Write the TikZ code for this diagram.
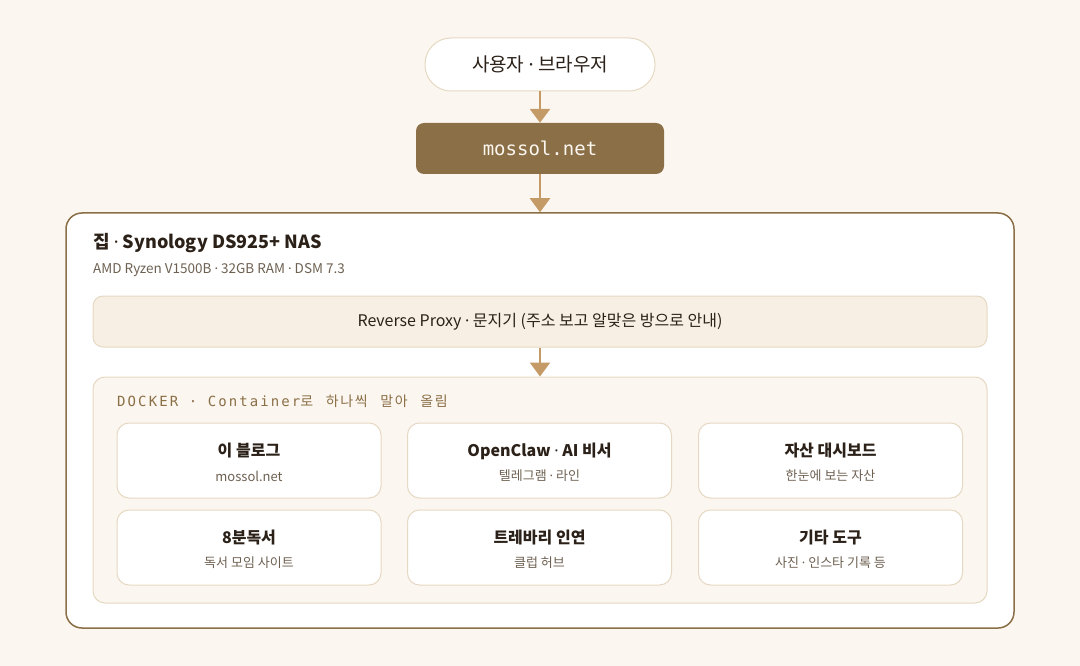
\documentclass[tikz,border=0pt]{standalone}
\usepackage{fontspec}
\setmainfont{Noto Sans CJK KR}
\setmonofont{DejaVu Sans Mono}
\newfontfamily\latinfont{Noto Sans}
\newfontfamily\dockfont[LetterSpace=15]{DejaVu Sans Mono}
\newfontfamily\dockkr[LetterSpace=12, WordSpace=2.6]{Noto Sans CJK KR}
\newcommand\mdot{{\latinfont ·}}
\usetikzlibrary{arrows.meta, positioning}
\definecolor{pagebg}{HTML}{FBF6EF}
\definecolor{tan1}{HTML}{C49A66}
\definecolor{brown1}{HTML}{8B6F47}
\definecolor{line1}{HTML}{E6D9C3}
\definecolor{proxyfill}{HTML}{F7EFE3}
\definecolor{ink1}{HTML}{2B2118}
\definecolor{ink2}{HTML}{6E6152}
\tikzset{
  flow/.style={-{Triangle[width=20pt, length=14pt]}, line width=2.5pt, tan1},
  card/.style={draw=line1, line width=1pt, fill=white, rounded corners=12pt,
    minimum width=264pt, minimum height=75pt, align=center, inner sep=0pt},
  cardtitle/.style={font=\fontsize{16}{19}\selectfont\bfseries, text=ink1},
  cardsub/.style={font=\fontsize{13}{15}\selectfont, text=ink2},
}

\begin{document}
\begin{tikzpicture}[x=1pt, y=-1pt]
  \fill[pagebg] (0,0) rectangle (1080,666);
  \useasboundingbox (0,0) rectangle (1080,666);

  % Entry
  \node[draw=line1, line width=1pt, fill=white, rounded corners=26pt, minimum width=230pt, minimum height=53pt,
    font=\fontsize{19}{22}\selectfont, text=ink1] (user) at (540,64.5) {사용자 \mdot{} 브라우저};
  \node[fill=brown1, rounded corners=8pt, minimum width=248pt, minimum height=51pt,
    font=\ttfamily\fontsize{19}{22}\selectfont, text=pagebg] (site) at (540,148.5) {mossol.net};

  % NAS
  \node[draw=brown1, line width=1.5pt, fill=white, rounded corners=16pt, minimum width=948pt, minimum height=415pt] (nas) at (540,420.5) {};
  \node[anchor=west, inner sep=0pt, font=\fontsize{18}{21}\selectfont\bfseries, text=ink1] (nastitle) at (93,243) {집 \mdot{} Synology DS925+ NAS};
  \node[anchor=west, inner sep=0pt, font=\fontsize{13.5}{16}\selectfont, text=ink2] (nasspec) at (93,270) {AMD Ryzen V1500B \mdot{} 32GB RAM \mdot{} DSM 7.3};

  \node[draw=line1, line width=1pt, fill=proxyfill, rounded corners=10pt, minimum width=894pt, minimum height=51pt,
    font=\fontsize{16}{19}\selectfont, text=ink1] (proxy) at (540,321.5) {Reverse Proxy \mdot{} 문지기 (주소 보고 알맞은 방으로 안내)};

  \node[draw=line1, line width=1pt, fill=pagebg, rounded corners=12pt, minimum width=894pt, minimum height=226pt] (docker) at (540,490) {};
  \node[anchor=west, inner sep=0pt, text=brown1] (dockerlabel) at (117,401)
    {{\dockfont\fontsize{14}{17}\selectfont DOCKER · Container}{\dockkr\fontsize{14}{17}\selectfont 로 하나씩 말아 올림}};

  % Containers
  \node[card] (blog) at (249,460.5) {};
  \node[card] (claw) at (539.5,460.5) {};
  \node[card] (asset) at (830.5,460.5) {};
  \node[card] (books) at (249,547.5) {};
  \node[card] (trevari) at (539.5,547.5) {};
  \node[card] (etc) at (830.5,547.5) {};
  \foreach \cid/\title/\sub in {blog/이 블로그/mossol.net, claw/OpenClaw \mdot{} AI 비서/텔레그램 \mdot{} 라인,
      asset/자산 대시보드/한눈에 보는 자산, books/8분독서/독서 모임 사이트,
      trevari/트레바리 인연/클럽 허브, etc/기타 도구/사진 \mdot{} 인스타 기록 등} {
    \node[cardtitle] (\cid-title) at ([yshift=9.5pt]\cid.center) {\title};
    \node[cardsub] (\cid-sub) at ([yshift=-15.5pt]\cid.center) {\sub};
  }

  \draw[flow] (user) -- (site);
  \draw[flow] (site) -- (nas.north);
  \draw[flow] (proxy) -- (docker.north);
\end{tikzpicture}
\end{document}
